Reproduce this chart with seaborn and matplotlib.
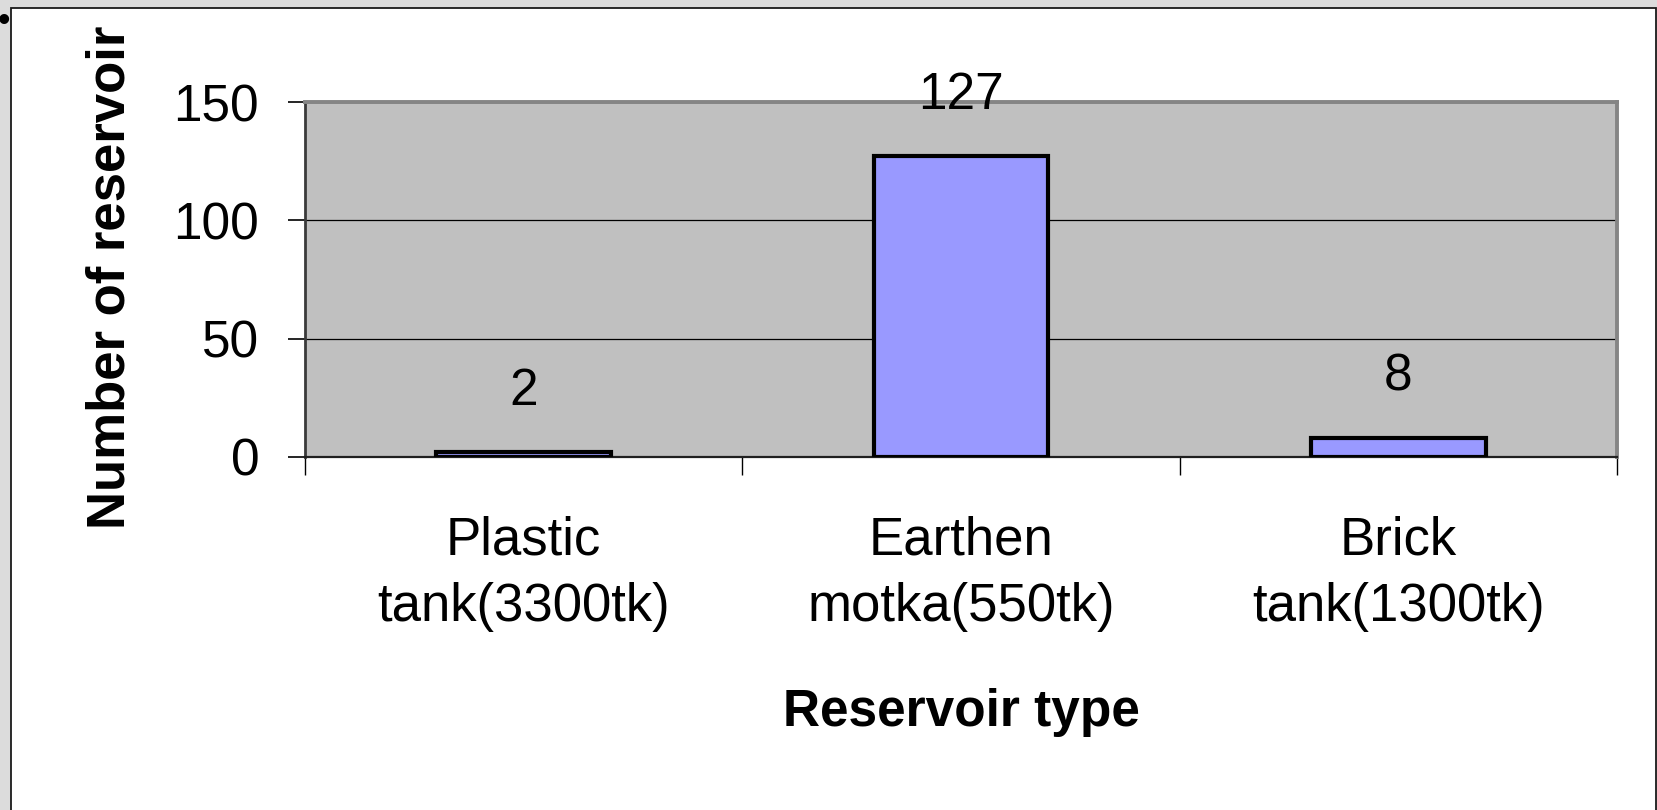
import matplotlib
matplotlib.use("Agg")
import matplotlib.pyplot as plt
from matplotlib.patches import Rectangle
import seaborn as sns

# Reservoir survey counts
categories = ["Plastic\ntank(3300tk)", "Earthen\nmotka(550tk)", "Brick\ntank(1300tk)"]
counts = [2, 127, 8]
y_ticks = [0, 50, 100, 150]

sns.set_style("ticks")
plt.rcParams["font.family"] = ["Liberation Sans", "DejaVu Sans"]
plt.rcParams.update({
    "text.color": "black",
    "axes.labelcolor": "black",
    "xtick.color": "black",
    "ytick.color": "black",
    "xtick.labelcolor": "black",
    "ytick.labelcolor": "black",
})

W, H, DPI = 1658, 810, 100
fig = plt.figure(figsize=(W / DPI, H / DPI), dpi=DPI)
fig.patch.set_facecolor("#dcdcdc")

# white slide panel with dark frame
panel = Rectangle((11 / W, -0.05), (1656 - 11) / W, 1.05 - 8 / H,
                  transform=fig.transFigure, facecolor="white",
                  edgecolor="#1a1a1a", linewidth=1.3, zorder=-1)
fig.patches.append(panel)
fig.text(4 / W, 1 - 22 / H, "\u2022", fontsize=26, ha="center", va="center",
         color="black")

ax = fig.add_axes([305 / W, 1 - 457 / H, (1617 - 305) / W, (457 - 102) / H])
ax.set_facecolor("#c0c0c0")

sns.barplot(x=categories, y=counts, color="#9999ff", saturation=1,
            edgecolor="black", linewidth=3.0, width=0.4, ax=ax, zorder=3)

for i, v in enumerate(counts):
    ax.annotate(str(v), (i, v), xytext=(0, 44), textcoords="offset points",
                ha="center", va="center", fontsize=37, color="black")

ax.set_ylim(0, 150)
ax.set_xlim(-0.5, len(categories) - 0.5)
ax.set_yticks(y_ticks)
ax.set_axisbelow(True)
ax.yaxis.grid(True, color="black", linewidth=0.9)
ax.xaxis.grid(False)

ax.tick_params(axis="y", labelsize=37, length=12, width=1.2, pad=21,
               direction="out")
ax.tick_params(axis="x", which="major", labelsize=38, length=0, pad=42)
for lbl in ax.get_xticklabels():
    lbl.set_linespacing(1.42)
ax.set_xticks([k - 0.5 for k in range(len(categories) + 1)], minor=True)
ax.tick_params(axis="x", which="minor", length=13, width=1.0,
               direction="out")

for side in ("top", "right"):
    ax.spines[side].set_visible(True)
    ax.spines[side].set_color("#858585")
    ax.spines[side].set_linewidth(2.8)
ax.spines["left"].set_color("#3a3a3a")
ax.spines["left"].set_linewidth(2.0)
ax.spines["bottom"].set_color("#202020")
ax.spines["bottom"].set_linewidth(1.6)

ax.set_ylabel("Number of reservoir", fontsize=38, fontweight="bold")
ax.yaxis.set_label_coords(-0.129, 0.507)
ax.set_xlabel("Reservoir type", fontsize=37, fontweight="bold", va="top")
ax.xaxis.set_label_coords(0.5, -0.651)

fig.savefig("out.png", dpi=DPI, facecolor=fig.get_facecolor())
